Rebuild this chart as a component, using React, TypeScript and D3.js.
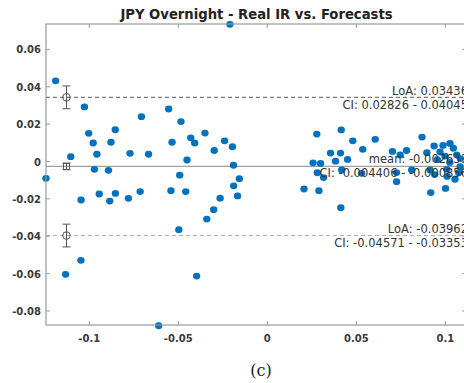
import React from "react";
import * as d3 from "d3";

const title = "JPY Overnight - Real IR vs. Forecasts";
const xTicks = [-0.1, -0.05, 0, 0.05, 0.1];
const xTickLabels = ["-0.1", "-0.05", "0", "0.05", "0.1"];
const yTicks = [-0.08, -0.06, -0.04, -0.02, 0, 0.02, 0.04, 0.06];
const yTickLabels = ["-0.08", "-0.06", "-0.04", "-0.02", "0", "0.02", "0.04", "0.06"];

const xs = [
  -0.1189, -0.1243, -0.1104, -0.1027, -0.1003, -0.0978, -0.0957, -0.0971, -0.0892, -0.0878,
  -0.0854, -0.0771, -0.0707, -0.0667, -0.0554, -0.0535, -0.0485, -0.0451, -0.0492, -0.043,
  -0.0408, -0.035, -0.0298, -0.024, -0.0196, -0.019, -0.021, -0.0189, -0.0157, -0.0167,
  -0.1046, -0.0944, -0.0885, -0.0853, -0.078, -0.0714, -0.0541, -0.0458, -0.0265, -0.0301,
  -0.034, -0.0497, -0.1133, -0.1047, -0.0397, -0.061,
  0.0278, 0.0415, 0.048, 0.0355, 0.0411, 0.0383, 0.0451, 0.0536, 0.0606, 0.0257,
  0.0299, 0.0281, 0.0316, 0.0418, 0.0530, 0.0206, 0.029, 0.0413, 0.0869, 0.0703,
  0.0746, 0.0782, 0.0726, 0.0726, 0.0896, 0.0937, 0.0987, 0.1045, 0.1026, 0.097,
  0.0998, 0.1064, 0.1083, 0.0811, 0.0914, 0.1008, 0.1054, 0.0918, 0.1001,
  0.0955, 0.1025, 0.1085, 0.0940, 0.1010, 0.1075,
];
const ys = [
  0.0432, -0.009, 0.0026, 0.0292, 0.0151, 0.0099, 0.0039, -0.0042, -0.0047, 0.0103,
  0.017, 0.0044, 0.024, 0.0039, 0.0281, 0.0103, 0.0214, 0.0008, -0.0073, 0.0127,
  0.0099, 0.0152, 0.0059, 0.0111, 0.0079, -0.002, 0.0734, -0.013, -0.0092, -0.0184,
  -0.0206, -0.0174, -0.0212, -0.0171, -0.0197, -0.0161, -0.0156, -0.0161, -0.0196, -0.0258,
  -0.0308, -0.0365, -0.0604, -0.0529, -0.0613, -0.0879,
  0.0147, 0.0169, 0.0111, 0.0045, 0.0045, 0.0002, 0.0011, 0.0065, 0.0119, -0.0007,
  -0.001, -0.006, -0.0086, -0.0045, -0.0063, -0.0147, -0.0156, -0.0247, 0.0131, 0.0054,
  0.0035, 0.0059, -0.0059, -0.0108, 0.0047, 0.0083, 0.0086, 0.0071, 0.0097, 0.0052,
  0.0029, 0.0035, -0.0028, -0.0045, -0.0045, -0.0042, -0.0095, -0.0166, -0.0144,
  0.0010, -0.0005, 0.0015, -0.0070, -0.0080, -0.0060,
];

const meanVal = -0.002631;
const meanCI = [-0.004406, -0.000856];
const loaUpper = 0.03436;
const loaUpperCI = [0.02826, 0.04045];
const loaLower = -0.03962;
const loaLowerCI = [-0.04571, -0.03353];
const markerX = -0.1128;

const meanLabel = "mean: -0.002631";
const meanCILabel = "CI: -0.004406 - -0.000856";
const upLabel = "LoA: 0.03436";
const upCILabel = "CI: 0.02826 - 0.04045";
const lowLabel = "LoA: -0.03962";
const lowCILabel = "CI: -0.04571 - -0.03353";

export default function App() {
  const W = 464, H = 383;
  const L = 46, R = 466, T = 24, B = 325;
  const x = d3.scaleLinear().domain([-0.1243, 0.1116]).range([L, R]);
  const y = d3.scaleLinear().domain([-0.0875, 0.0736]).range([B, T]);
  const font = "'DejaVu Sans', Verdana, sans-serif";
  const axisCol = "#9a9a9a";
  const tickCol = "#3a3a3a";
  const tl = 4;
  const mx = x(markerX);
  const textX = R + 2;

  const errBar = (lo: number, hi: number, key: string) => (
    <g key={key} stroke="#555" strokeWidth={1} fill="none">
      <line x1={mx} x2={mx} y1={y(lo)} y2={y(hi)} />
      <line x1={mx - 4} x2={mx + 4} y1={y(lo)} y2={y(lo)} />
      <line x1={mx - 4} x2={mx + 4} y1={y(hi)} y2={y(hi)} />
    </g>
  );

  return (
    <svg width={W} height={H} style={{ position: "absolute", left: 0, top: 0, background: "#fff" }}>
      <rect x={0} y={0} width={W} height={H} fill="#fff" />
      <text x={256.5} y={19} textAnchor="middle" fontFamily={font} fontWeight="bold" fontSize={13.2} fill="#222">
        {title}
      </text>
      {/* reference lines */}
      <line x1={L} x2={R} y1={y(meanVal)} y2={y(meanVal)} stroke="#a0a0a0" strokeWidth={1.2} />
      <line x1={L} x2={R} y1={y(loaUpper)} y2={y(loaUpper)} stroke="#5a5a5a" strokeWidth={1} strokeDasharray="4,3" />
      <line x1={L} x2={R} y1={y(loaLower)} y2={y(loaLower)} stroke="#b0b0b0" strokeWidth={1} strokeDasharray="4,3" />
      {/* points */}
      <g fill="#0072BD">
        {xs.map((v, i) => (
          <ellipse key={i} cx={x(v)} cy={y(ys[i])} rx={3.7} ry={3.4} />
        ))}
      </g>
      {/* error bar markers */}
      {errBar(loaUpperCI[0], loaUpperCI[1], "u")}
      {errBar(meanCI[0], meanCI[1], "m")}
      {errBar(loaLowerCI[0], loaLowerCI[1], "l")}
      <circle cx={mx} cy={y(loaUpper)} r={3.8} fill="none" stroke="#555" strokeWidth={1} />
      <rect x={mx - 3} y={y(meanVal) - 3} width={6} height={6} fill="none" stroke="#555" strokeWidth={1} />
      <circle cx={mx} cy={y(loaLower)} r={3.8} fill="none" stroke="#555" strokeWidth={1} />
      {/* labels */}
      <g fontFamily={font} fontSize={11.5} fill="#333" textAnchor="end">
        <text x={textX} y={y(loaUpper) - 2.5}>{upLabel}</text>
        <text x={textX} y={y(loaUpper) + 12}>{upCILabel}</text>
        <text x={textX} y={y(meanVal) - 3.5}>{meanLabel}</text>
        <text x={textX} y={y(meanVal) + 10.5}>{meanCILabel}</text>
        <text x={textX} y={y(loaLower) - 3}>{lowLabel}</text>
        <text x={textX} y={y(loaLower) + 11.5}>{lowCILabel}</text>
      </g>
      {/* axes box */}
      <rect x={L} y={T} width={R - L} height={B - T} fill="none" stroke={axisCol} strokeWidth={1.2} />
      <g stroke={axisCol} strokeWidth={1}>
        {xTicks.map((t, i) => (
          <g key={"xt" + i}>
            <line x1={x(t)} x2={x(t)} y1={B} y2={B - tl} />
            <line x1={x(t)} x2={x(t)} y1={T} y2={T + tl} />
          </g>
        ))}
        {yTicks.map((t, i) => (
          <g key={"yt" + i}>
            <line x1={L} x2={L + tl} y1={y(t)} y2={y(t)} />
            <line x1={R} x2={R - tl} y1={y(t)} y2={y(t)} />
          </g>
        ))}
      </g>
      <g fontFamily={font} fontSize={10} fontWeight="bold" fill={tickCol}>
        {xTicks.map((t, i) => (
          <text key={"xl" + i} x={x(t)} y={B + 17} textAnchor="middle">{xTickLabels[i]}</text>
        ))}
        {yTicks.map((t, i) => (
          <text key={"yl" + i} x={L - 5} y={y(t) + 4} textAnchor="end">{yTickLabels[i]}</text>
        ))}
      </g>
      <text x={261} y={376} textAnchor="middle" fontFamily="'DejaVu Serif', serif" fontSize={16} fill="#222">
        (c)
      </text>
    </svg>
  );
}
